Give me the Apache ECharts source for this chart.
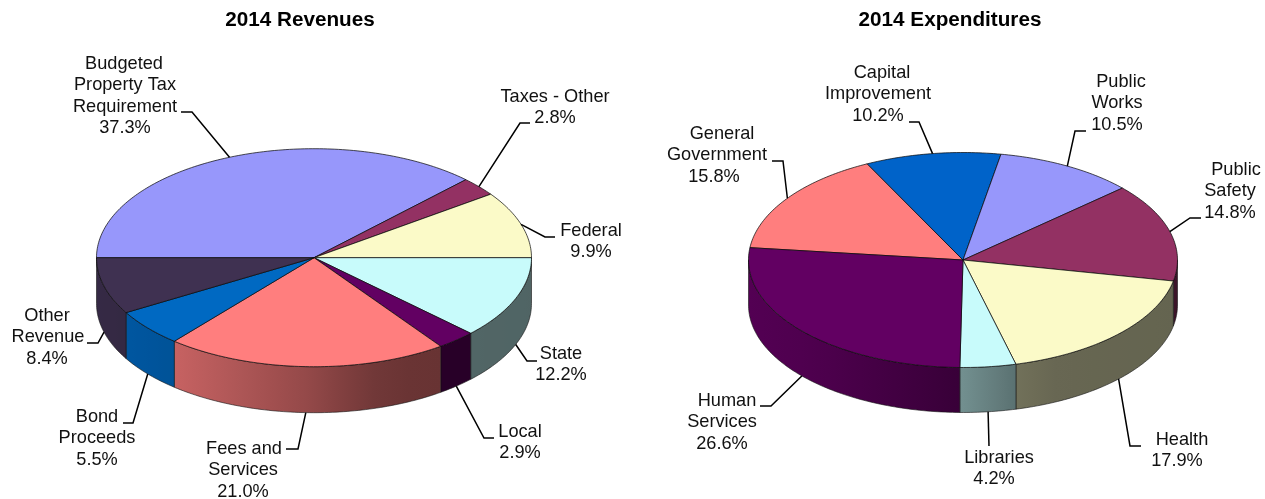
<!DOCTYPE html>
<html>
<head>
<meta charset="utf-8">
<style>
  html, body { margin: 0; padding: 0; background: #fff; }
  #chart { width: 1265px; height: 499px; }
</style>
<script src="https://cdn.jsdelivr.net/npm/echarts@6/dist/echarts.min.js"></script>
</head>
<body>
<div id="chart"></div>
<script>
const revenueNames = ['Budgeted\nProperty Tax\nRequirement', 'Taxes - Other', 'Federal', 'State', 'Local', 'Fees and\nServices', 'Bond\nProceeds', 'Other\nRevenue'];
const revenueValues = [37.3, 2.8, 9.9, 12.2, 2.9, 21.0, 5.5, 8.4];
const revenueColors = ['#9797FB', '#933163', '#FBFAC8', '#C8FBFB', '#620062', '#FF7E7E', '#0069C2', '#3F3151'];

const expenseNames = ['General\nGovernment', 'Capital\nImprovement', 'Public\nWorks', 'Public\nSafety', 'Health', 'Libraries', 'Human\nServices'];
const expenseValues = [15.8, 10.2, 10.5, 14.8, 17.9, 4.2, 26.6];
const expenseColors = ['#FF7E7E', '#0063C9', '#9797FB', '#933163', '#FBFAC8', '#C8FBFB', '#620062'];

// label placement: x centre of each text line, y of first line, leader elbow and end
const revenueLabels = [
  { x: [124, 125, 125, 125], y: 64, leader: [[192, 112], [181, 112]] },
  { x: [555, 555], y: 97, leader: [[520, 123], [530, 123]] },
  { x: [591, 591], y: 231, leader: [[545, 237], [555, 237]] },
  { x: [561, 561], y: 354, leader: [[527, 361], [537, 361]] },
  { x: [520, 520], y: 432, leader: [[484, 438], [494, 438]] },
  { x: [244, 243, 243], y: 449, leader: [[298, 449], [286, 449]] },
  { x: [97, 97, 97], y: 417, leader: [[133, 423], [123, 423]] },
  { x: [47, 48, 47], y: 316, leader: [[98, 343], [87, 343]] }
];
const expenseLabels = [
  { x: [722, 717, 714], y: 134, leader: [[783, 161], [772, 161]] },
  { x: [882, 878, 878], y: 73, leader: [[919, 122], [909, 122]] },
  { x: [1121, 1117, 1117], y: 82, leader: [[1075, 131], [1086, 131]] },
  { x: [1236, 1230, 1230], y: 170, leader: [[1190, 218], [1201, 218]] },
  { x: [1182, 1177], y: 440, leader: [[1130, 446], [1141, 446]] },
  { x: [999, 994], y: 458, leader: [[989, 446]] },
  { x: [727, 722, 722], y: 401, leader: [[771, 406], [760, 406]] }
];

const lineHeight = 21.3;
const labelFont = '18.2px "Liberation Sans", Arial, sans-serif';

// side wall brightness against horizontal position on the pie (-1 left, 1 right)
function sideShade(x) {
  const stops = [[-1, 0.85], [-0.64, 0.78], [0, 0.57], [0.25, 0.45], [0.45, 0.41], [1, 0.4]];
  for (let i = 1; i < stops.length; i++) {
    if (x <= stops[i][0]) {
      const k = (x - stops[i - 1][0]) / (stops[i][0] - stops[i - 1][0]);
      return stops[i - 1][1] + k * (stops[i][1] - stops[i - 1][1]);
    }
  }
  return 0.4;
}

function shadeColor(hex, b) {
  const r = parseInt(hex.slice(1, 3), 16), g = parseInt(hex.slice(3, 5), 16), bl = parseInt(hex.slice(5, 7), 16);
  return 'rgb(' + Math.round(r * b) + ',' + Math.round(g * b) + ',' + Math.round(bl * b) + ')';
}

function pieSeries(names, values, colors, labels, pie) {
  const total = values.reduce((a, b) => a + b, 0);
  const rad = (d) => d * Math.PI / 180;
  const pt = (t, dy) => [pie.cx + pie.rx * Math.cos(rad(t)), pie.cy + pie.ry * Math.sin(rad(t)) + (dy || 0)];
  const arc = (a, b, dy) => {
    const n = Math.max(2, Math.ceil(Math.abs(b - a)));
    const out = [];
    for (let i = 0; i <= n; i++) out.push(pt(a + (b - a) * i / n, dy));
    return out;
  };

  return {
    type: 'custom',
    coordinateSystem: 'none',
    silent: true,
    animation: false,
    data: values,
    renderItem: function (params, api) {
      const i = params.dataIndex;
      let before = 0;
      for (let k = 0; k < i; k++) before += values[k];
      const t0 = pie.start + before / total * 360;
      const t1 = t0 + api.value(0) / total * 360;
      const mid = (t0 + t1) / 2;
      const children = [];

      // front wall, only the part of the slice on the near half
      let bands = [[t0, t1], [t0 + 360, t1 + 360]];
      bands.forEach(function (band) {
        const a = Math.max(band[0], 0), b = Math.min(band[1], 180);
        if (b <= a) return;
        const xa = Math.cos(rad(a)), xb = Math.cos(rad(b));
        const colorStops = [];
        for (let s = 0; s <= 8; s++) {
          const x = xb + (xa - xb) * s / 8;
          colorStops.push({ offset: s / 8, color: shadeColor(colors[i], sideShade(x)) });
        }
        children.push({
          type: 'polygon',
          z2: 1,
          shape: { points: arc(a, b, 0).concat(arc(b, a, pie.depth)) },
          style: {
            fill: new echarts.graphic.LinearGradient(0, 0, 1, 0, colorStops),
            stroke: 'rgba(20,20,20,0.75)',
            lineWidth: 0.8
          }
        });
      });

      // top face
      children.push({
        type: 'polygon',
        z2: 2,
        shape: { points: [[pie.cx, pie.cy]].concat(arc(t0, t1, 0)) },
        style: { fill: colors[i], stroke: 'rgba(10,10,10,0.8)', lineWidth: 0.9 }
      });

      // leader line starts on the rim at the middle of the slice
      const front = Math.sin(rad(mid)) > 0;
      const label = labels[i];
      children.push({
        type: 'polyline',
        z2: 3,
        shape: { points: [pt(mid, front ? pie.depth : 0)].concat(label.leader) },
        style: { fill: null, stroke: '#000', lineWidth: 1.5 }
      });

      const lines = names[i].split('\n').concat(values[i].toFixed(1) + '%');
      lines.forEach(function (line, n) {
        children.push({
          type: 'text',
          z2: 4,
          style: {
            text: line,
            x: label.x[n],
            y: label.y + n * lineHeight,
            align: 'center',
            verticalAlign: 'middle',
            font: labelFont,
            fill: '#111'
          }
        });
      });
      return { type: 'group', children: children };
    }
  };
}

const chart = echarts.init(document.getElementById('chart'));
chart.setOption({
  backgroundColor: '#ffffff',
  animation: false,
  title: [
    {
      text: '2014 Revenues', left: 295, top: 5, textAlign: 'center',
      textStyle: { fontFamily: '"Liberation Sans", Arial, sans-serif', fontSize: 20.7, fontWeight: 'bold', color: '#000' }
    },
    {
      text: '2014 Expenditures', left: 945, top: 5, textAlign: 'center',
      textStyle: { fontFamily: '"Liberation Sans", Arial, sans-serif', fontSize: 20.7, fontWeight: 'bold', color: '#000' }
    }
  ],
  series: [
    pieSeries(revenueNames, revenueValues, revenueColors, revenueLabels,
      { cx: 314, cy: 257.7, rx: 217.5, ry: 109, depth: 46, start: -180 }),
    pieSeries(expenseNames, expenseValues, expenseColors, expenseLabels,
      { cx: 963, cy: 260, rx: 214.5, ry: 107.5, depth: 45, start: -173.4 })
  ]
});
</script>
</body>
</html>
